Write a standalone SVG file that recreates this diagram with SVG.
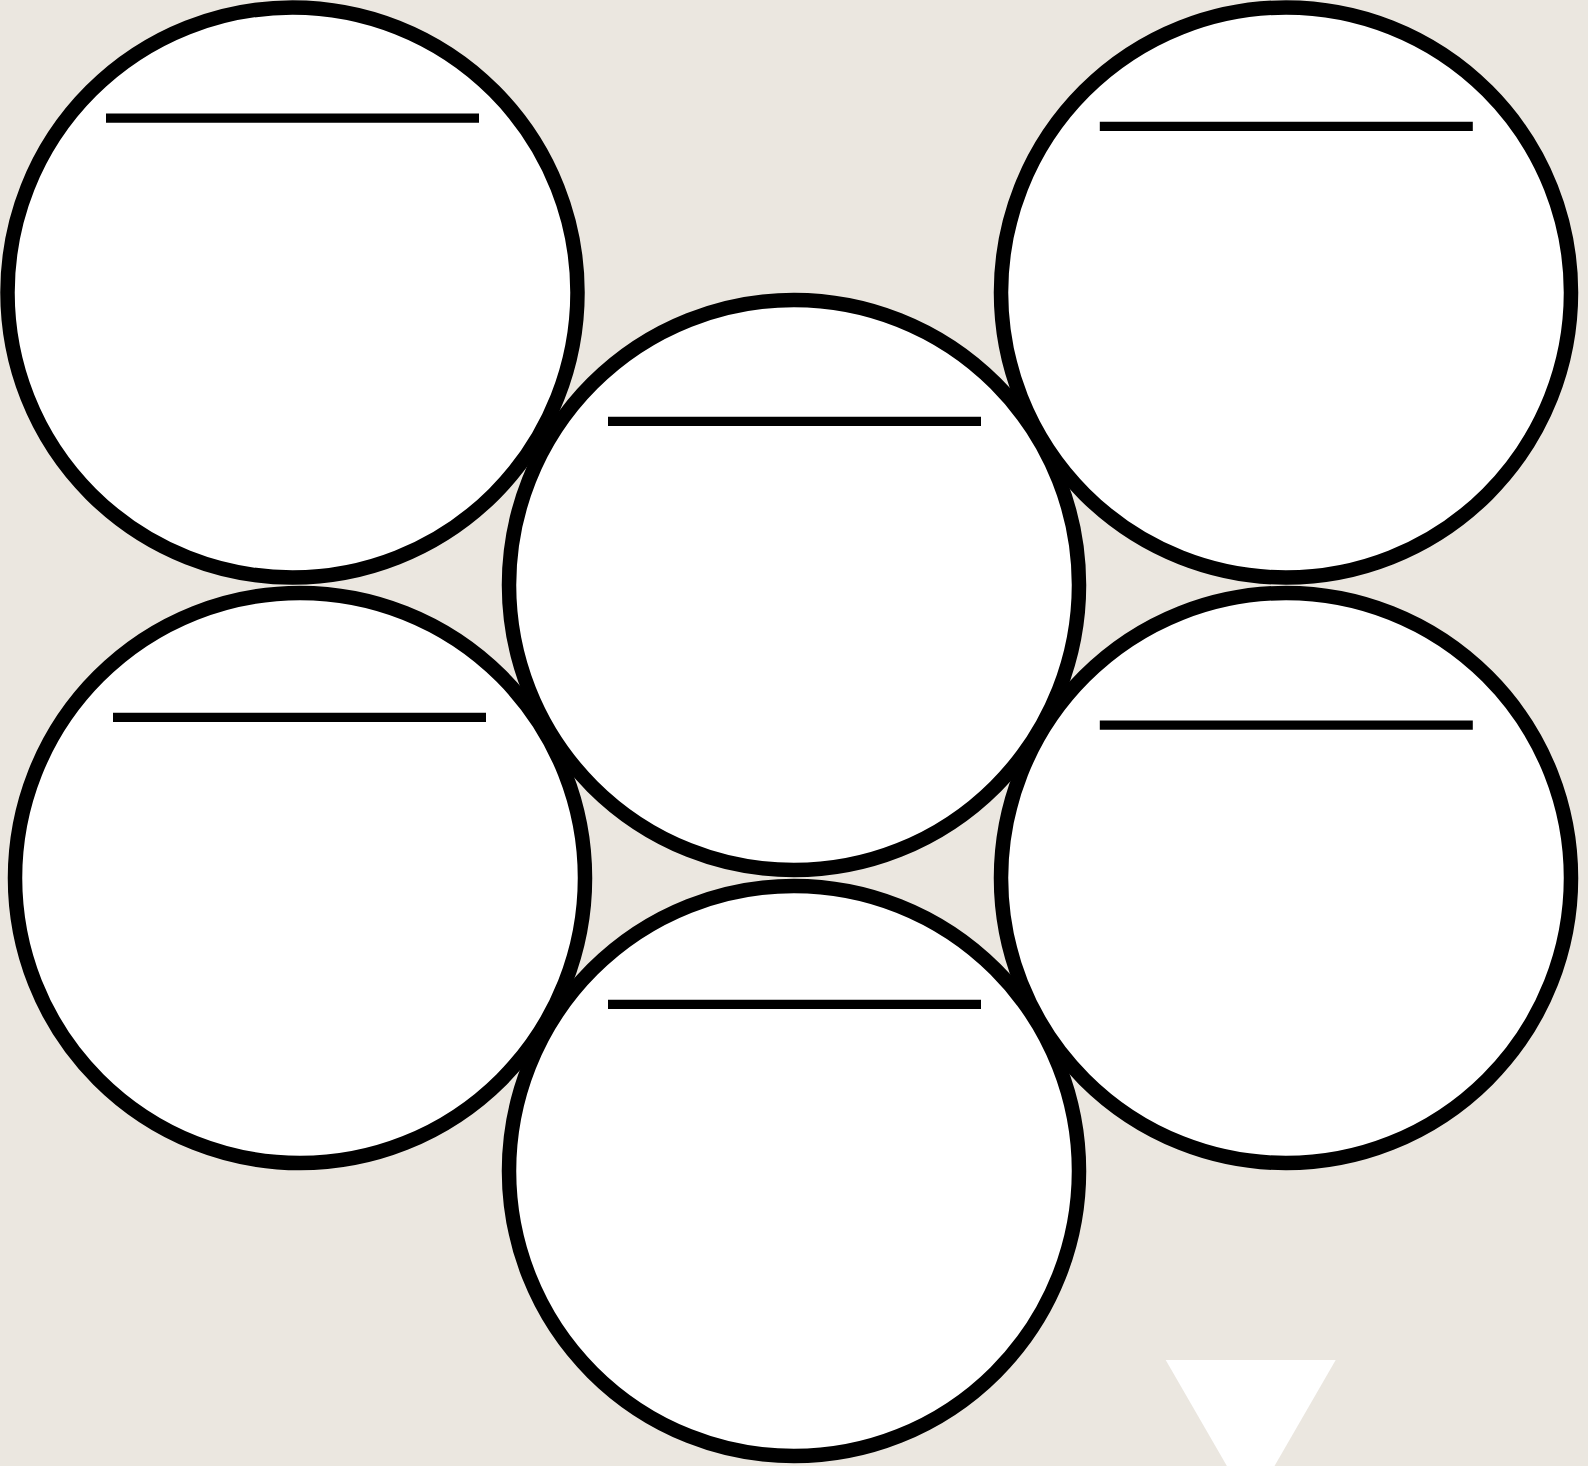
<svg xmlns="http://www.w3.org/2000/svg" width="1588" height="1466" viewBox="0 0 1588 1466">
<style>
.bg{fill:#ebe7e0}
.node circle{fill:#ffffff;stroke:#000000;stroke-width:14.5}
.node line{stroke:#000000;stroke-width:9.2}
.mark{fill:#ffffff}
</style>
<rect class="bg" x="0" y="0" width="1588" height="1466"/>
<g id="connectors"></g>
<g id="node-top-left" class="node">
<circle cx="292.5" cy="292.5" r="285"/>
<line x1="106" y1="118.2" x2="479" y2="118.2"/>
</g>
<g id="node-top-right" class="node">
<circle cx="1286" cy="292.5" r="285"/>
<line x1="1099.8" y1="126.3" x2="1472.8" y2="126.3"/>
</g>
<g id="node-center" class="node">
<circle cx="794" cy="585" r="285"/>
<line x1="608" y1="421.4" x2="981" y2="421.4"/>
</g>
<g id="node-mid-left" class="node">
<circle cx="300" cy="878" r="285"/>
<line x1="113" y1="717.4" x2="486" y2="717.4"/>
</g>
<g id="node-mid-right" class="node">
<circle cx="1286" cy="878" r="285"/>
<line x1="1099.8" y1="725.2" x2="1472.8" y2="725.2"/>
</g>
<g id="node-bottom" class="node">
<circle cx="794" cy="1171" r="285"/>
<line x1="608" y1="1004.4" x2="981" y2="1004.4"/>
</g>
<polygon class="mark" points="1165.7,1360 1335.7,1360 1250.7,1507.2"/>
</svg>
